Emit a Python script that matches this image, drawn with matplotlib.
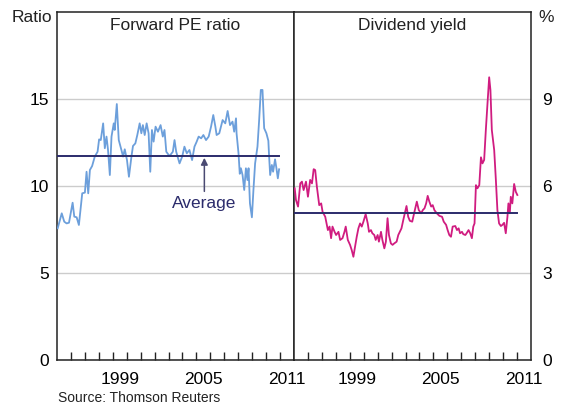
import matplotlib.pyplot as plt
from matplotlib.ticker import FixedLocator, NullFormatter

plt.rcParams["font.family"] = ["Liberation Sans", "DejaVu Sans"]

# --- Forward PE ratio (ratio), decimal years ---
pe_year = [
    1995.05, 1995.34, 1995.52, 1995.69, 1995.86, 1996.12, 1996.24, 1996.41, 1996.57,
    1996.81, 1997.00, 1997.12, 1997.24, 1997.36, 1997.52, 1997.71, 1997.91, 1998.02,
    1998.14, 1998.31, 1998.43, 1998.55, 1998.66, 1998.79, 1998.91, 1999.07, 1999.14,
    1999.29, 1999.43, 1999.62, 1999.74, 1999.86, 2000.02, 2000.16, 2000.34, 2000.45,
    2000.62, 2000.76, 2000.93, 2001.05, 2001.16, 2001.29, 2001.43, 2001.57, 2001.69,
    2001.81, 2001.93, 2002.07, 2002.24, 2002.43, 2002.59, 2002.71, 2002.84, 2003.07,
    2003.31, 2003.43, 2003.55, 2003.79, 2003.98, 2004.14, 2004.31, 2004.50, 2004.69,
    2004.86, 2005.02, 2005.16, 2005.34, 2005.50, 2005.69, 2005.88, 2006.05, 2006.21,
    2006.36, 2006.45, 2006.64, 2006.76, 2006.88, 2007.07, 2007.24, 2007.41, 2007.59,
    2007.71, 2007.84, 2007.88, 2008.02, 2008.11, 2008.19, 2008.31, 2008.43, 2008.55,
    2008.66, 2008.74, 2008.84, 2008.98, 2009.09, 2009.21, 2009.38, 2009.50, 2009.62,
    2009.74, 2009.86, 2010.02, 2010.16, 2010.21, 2010.29, 2010.41, 2010.50, 2010.64,
    2010.74, 2010.84, 2010.93,
]
pe_value = [
    7.57, 8.43, 7.95, 7.85, 7.89, 9.04, 8.24, 8.20, 7.76,
    9.58, 9.62, 10.82, 9.58, 10.92, 11.15, 11.69, 11.97, 12.68,
    12.64, 13.60, 12.17, 12.84, 12.07, 10.63, 12.84, 13.60, 13.22,
    14.71, 12.64, 12.07, 11.69, 12.11, 11.49, 10.53, 11.69, 12.30,
    12.45, 12.93, 13.60, 13.03, 13.50, 12.93, 13.60, 13.03, 10.82,
    13.22, 12.55, 13.41, 13.12, 13.50, 12.84, 13.22, 11.97, 11.72,
    11.97, 12.64, 11.97, 11.30, 11.69, 12.26, 11.88, 12.07, 11.49,
    12.26, 12.55, 12.84, 12.74, 12.93, 12.64, 12.84, 13.41, 14.08,
    13.41, 12.93, 13.03, 13.41, 13.79, 13.60, 14.31, 13.50, 13.70,
    13.12, 13.89, 13.03, 11.88, 10.70, 11.02, 10.63, 9.77, 11.02,
    10.34, 11.02, 9.00, 8.20, 9.77, 11.30, 12.26, 13.79, 15.52,
    15.52, 13.32, 13.03, 12.60, 11.78, 10.63, 11.21, 10.82, 11.53,
    11.02, 10.44, 10.96,
]
pe_average = 11.74

# --- Dividend yield (%), decimal years ---
dy_year = [
    1995.05, 1995.14, 1995.29, 1995.45, 1995.57, 1995.69, 1995.86, 1996.00, 1996.16,
    1996.29, 1996.41, 1996.52, 1996.64, 1996.81, 1996.95, 1997.05, 1997.24, 1997.43,
    1997.55, 1997.66, 1997.76, 1997.91, 1998.02, 1998.19, 1998.31, 1998.48, 1998.62,
    1998.71, 1998.86, 1999.02, 1999.14, 1999.26, 1999.38, 1999.50, 1999.62, 1999.74,
    1999.86, 1999.98, 2000.14, 2000.29, 2000.38, 2000.52, 2000.62, 2000.76, 2000.86,
    2001.00, 2001.09, 2001.24, 2001.34, 2001.48, 2001.59, 2001.71, 2001.81, 2001.95,
    2002.07, 2002.19, 2002.36, 2002.48, 2002.59, 2002.71, 2002.84, 2002.95, 2003.07,
    2003.19, 2003.31, 2003.48, 2003.64, 2003.81, 2003.95, 2004.12, 2004.24, 2004.36,
    2004.48, 2004.59, 2004.71, 2004.84, 2004.95, 2005.07, 2005.24, 2005.43, 2005.62,
    2005.74, 2005.91, 2006.02, 2006.14, 2006.26, 2006.38, 2006.57, 2006.69, 2006.81,
    2006.91, 2007.05, 2007.14, 2007.29, 2007.38, 2007.52, 2007.64, 2007.76, 2007.86,
    2007.95, 2008.05, 2008.16, 2008.29, 2008.41, 2008.52, 2008.64, 2008.76, 2008.88,
    2009.00, 2009.09, 2009.19, 2009.36, 2009.48, 2009.59, 2009.71, 2009.84, 2009.95,
    2010.07, 2010.19, 2010.31, 2010.38, 2010.48, 2010.55, 2010.66, 2010.79, 2010.91,
    2011.02,
]
dy_value = [
    5.92, 5.52, 5.29, 6.09, 6.15, 5.86, 6.15, 5.63, 6.21,
    6.09, 6.58, 6.55, 5.98, 5.34, 5.40, 5.11, 4.94, 4.48,
    4.60, 4.20, 4.60, 4.42, 4.31, 4.42, 4.14, 4.20, 4.42,
    4.60, 4.14, 3.97, 3.79, 3.56, 3.91, 4.25, 4.54, 4.71,
    4.60, 4.77, 5.03, 4.71, 4.42, 4.48, 4.37, 4.31, 4.14,
    4.31, 4.08, 4.42, 4.14, 3.85, 4.08, 4.89, 4.31, 4.02,
    3.97, 4.02, 4.08, 4.31, 4.42, 4.54, 4.83, 5.06, 5.31,
    4.94, 4.80, 4.77, 5.11, 5.46, 5.17, 5.06, 5.17, 5.23,
    5.40, 5.66, 5.46, 5.29, 5.34, 5.17, 5.06, 4.97, 4.94,
    4.77, 4.66, 4.48, 4.31, 4.25, 4.60, 4.62, 4.48, 4.54,
    4.37, 4.42, 4.34, 4.31, 4.37, 4.48, 4.37, 4.20, 4.60,
    4.71, 6.03, 5.92, 6.03, 6.99, 6.78, 6.90, 7.93, 8.85,
    9.75, 9.31, 7.93, 7.24, 6.21, 5.17, 4.71, 4.62, 4.66,
    4.73, 4.37, 4.94, 5.40, 5.06, 5.63, 5.40, 6.07, 5.80,
    5.69,
]
dy_average = 5.06

label_years = [1999, 2005, 2011]
minor_years = list(range(1996, 2012))

pe_color = "#6c9fdb"
dy_color = "#d01c80"
avg_color = "#2b2b6b"
grid_color = "#cccccc"

fig = plt.figure(figsize=(5.64, 4.05), dpi=100)
ax1 = fig.add_axes([57 / 564, 1 - 360 / 405, 237 / 564, 348 / 405])
ax2 = fig.add_axes([294 / 564, 1 - 360 / 405, 237 / 564, 348 / 405])

for ax in (ax1, ax2):
    ax.set_xlim(1995, 2012)
    ax.xaxis.set_major_locator(FixedLocator([y + 0.5 for y in label_years]))
    ax.set_xticklabels([str(y) for y in label_years])
    ax.xaxis.set_minor_locator(FixedLocator(minor_years))
    ax.xaxis.set_minor_formatter(NullFormatter())
    ax.tick_params(axis="x", which="major", length=0, pad=9, labelsize=12.5)
    ax.tick_params(axis="x", which="minor", direction="in", length=6, width=1, color="#222222")
    ax.tick_params(axis="y", length=0, labelsize=12.5)
    ax.grid(axis="y", color=grid_color, linewidth=1)
    ax.set_axisbelow(True)
    for sp in ax.spines.values():
        sp.set_color("#222222")
        sp.set_linewidth(1.1)

# --- left panel ---
ax1.set_ylim(0, 20)
ax1.set_yticks([0, 5, 10, 15])
ax1.tick_params(axis="y", pad=6)
ax1.plot(pe_year, pe_value, color=pe_color, linewidth=1.3, zorder=3)
ax1.plot([1995, pe_year[-1]], [pe_average, pe_average], color=avg_color, linewidth=1.4, zorder=4)
ax1.set_title("Forward PE ratio", fontsize=12.5, y=1, pad=-13, color="#222222")
ax1.annotate(
    "Average",
    xy=(2005.57, 11.62),
    xytext=(2005.57, 9.02),
    ha="center",
    va="center",
    fontsize=12.5,
    color=avg_color,
    arrowprops=dict(arrowstyle="-|>", color="#4a4a72", linewidth=1.1, mutation_scale=10, shrinkA=1, shrinkB=0),
    zorder=5,
)

# --- right panel ---
ax2.set_ylim(0, 12)
ax2.set_yticks([0, 3, 6, 9])
ax2.yaxis.tick_right()
ax2.tick_params(axis="y", pad=8)
ax2.plot(dy_year, dy_value, color=dy_color, linewidth=1.3, zorder=3)
ax2.plot([1995, dy_year[-1]], [dy_average, dy_average], color=avg_color, linewidth=1.4, zorder=4)
ax2.set_title("Dividend yield", fontsize=12.5, y=1, pad=-13, color="#222222")

fig.text(52 / 564, 1 - 18 / 405, "Ratio", ha="right", va="center", fontsize=12.5, color="#222222")
fig.text(538 / 564, 1 - 18 / 405, "%", ha="left", va="center", fontsize=12.5, color="#222222")
fig.text(58 / 564, 1 - 398 / 405, "Source: Thomson Reuters", ha="left", va="center", fontsize=10, color="#222222")

fig.savefig("out.png", dpi=100)
